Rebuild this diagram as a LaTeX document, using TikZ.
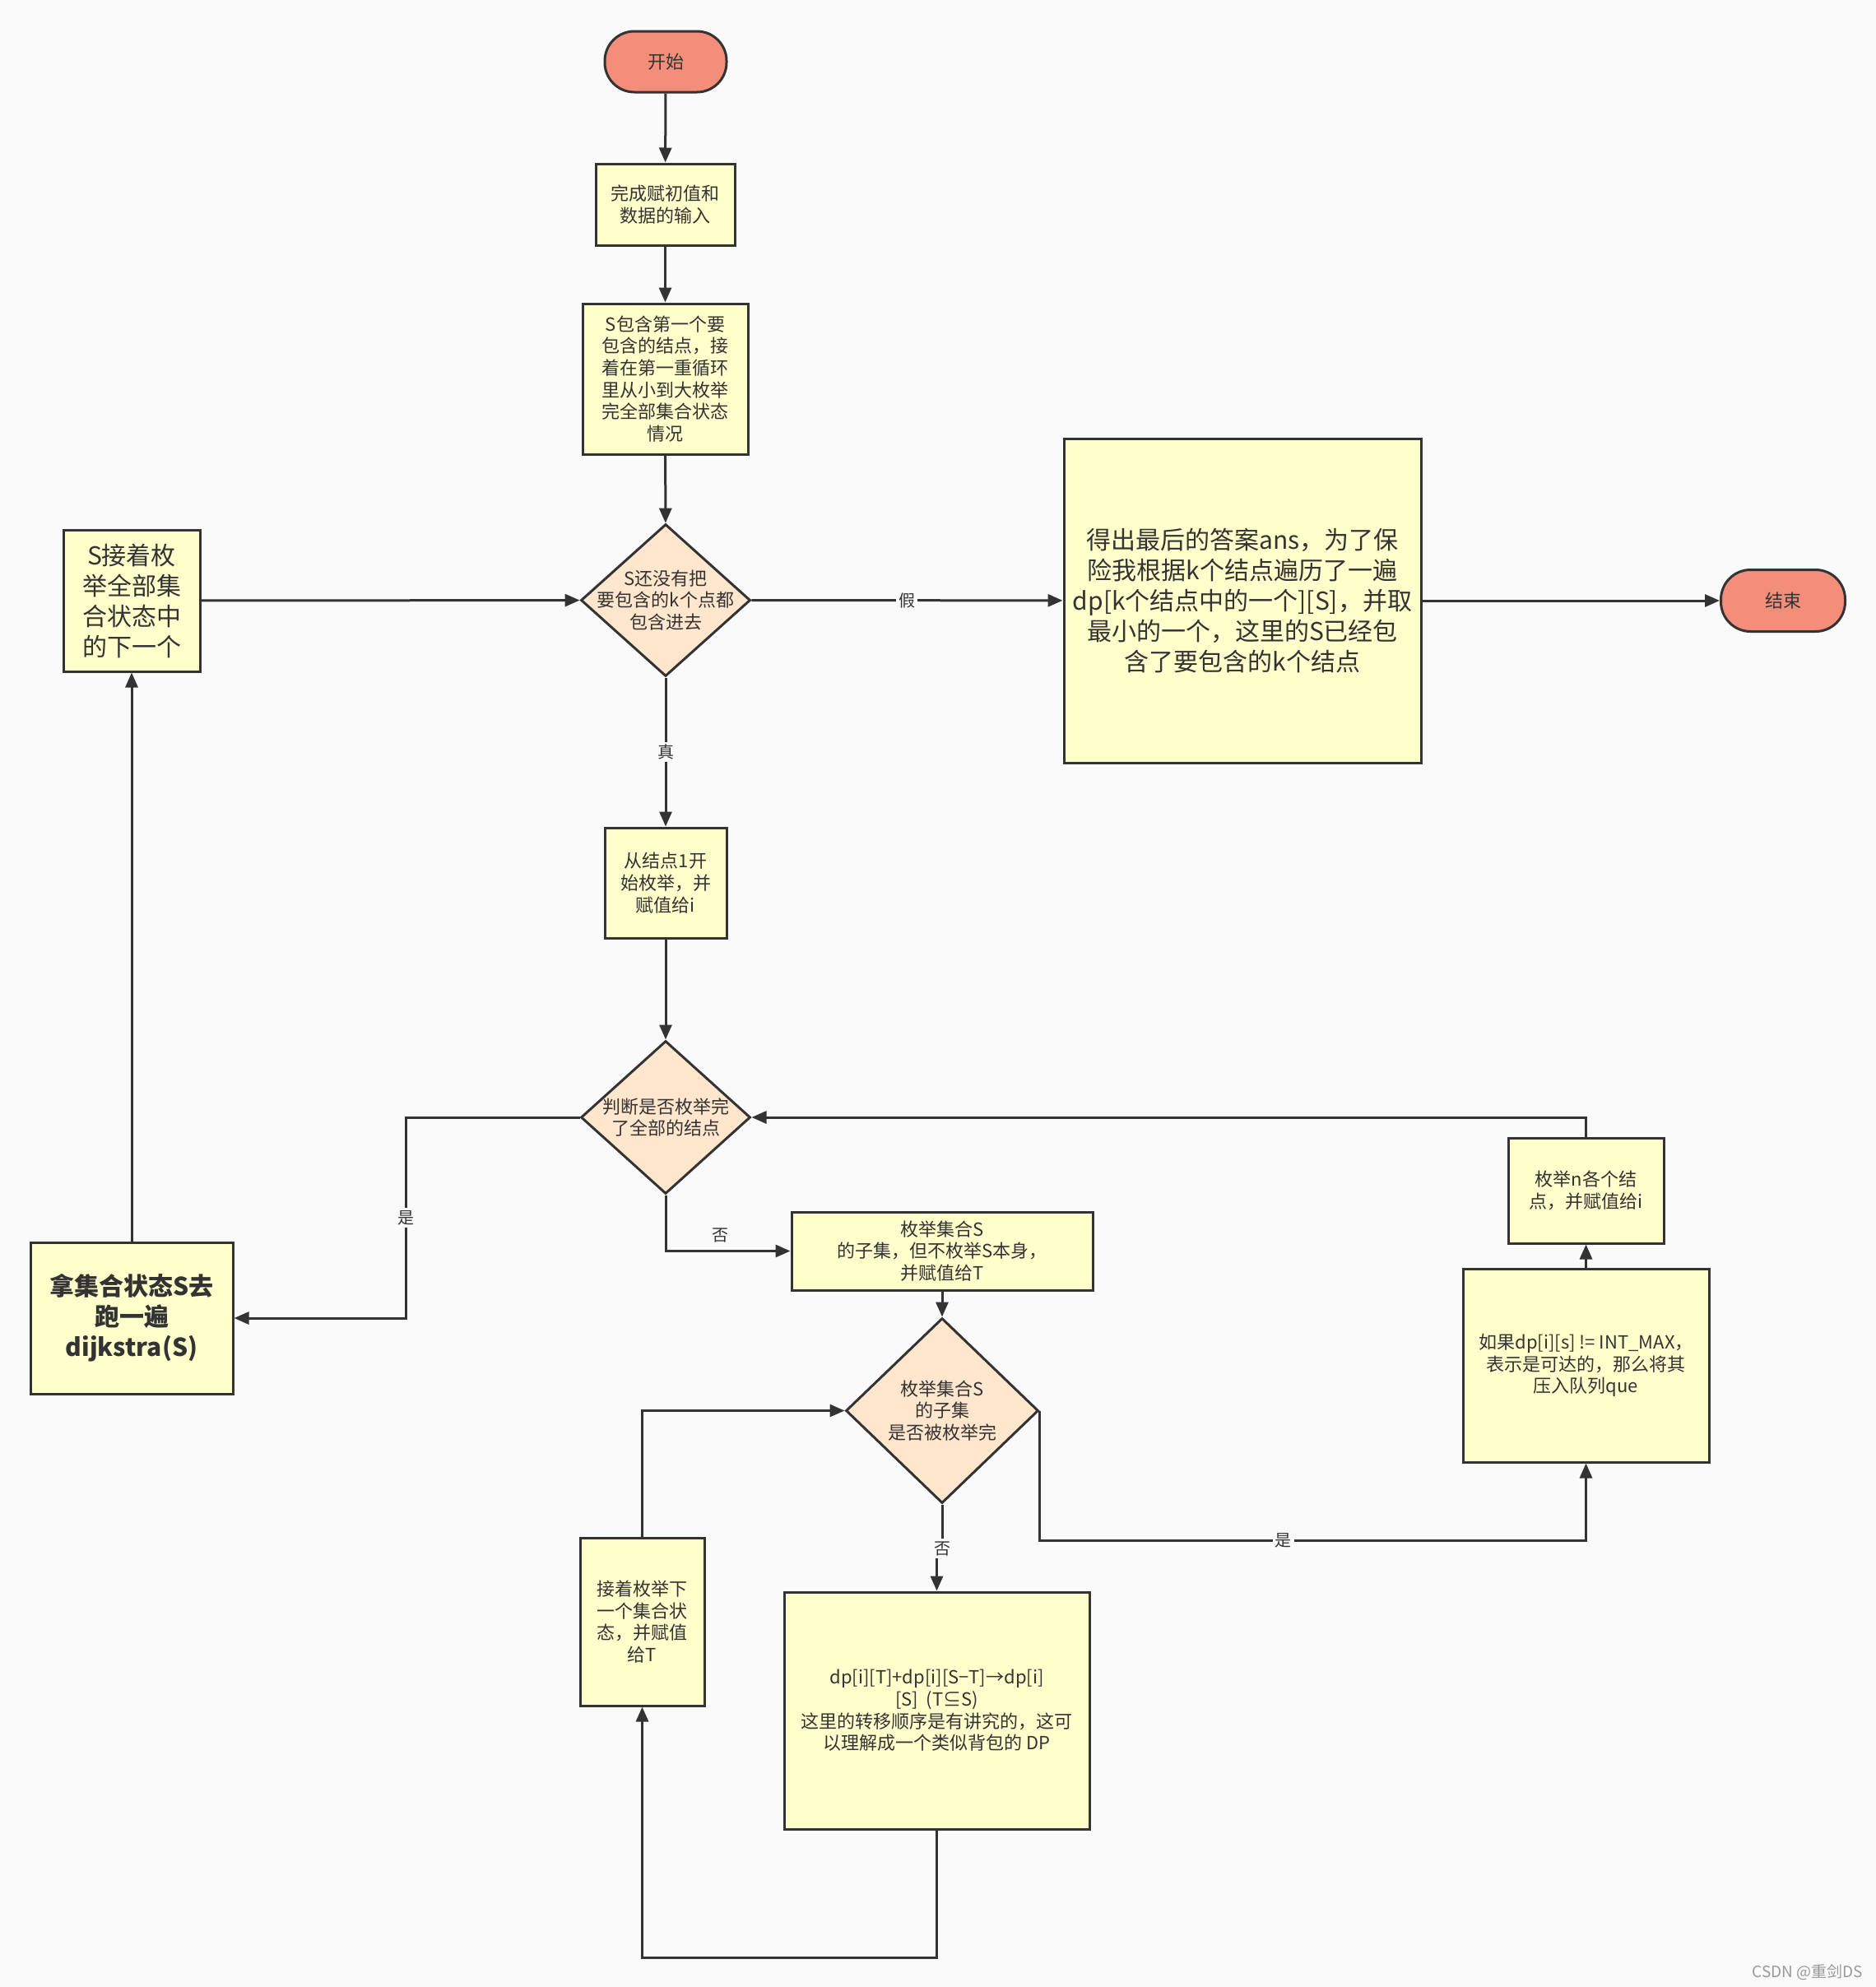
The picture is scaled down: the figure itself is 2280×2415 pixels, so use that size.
\documentclass[tikz,border=0pt]{standalone}
\usepackage{fontspec}
\setmainfont{Noto Sans CJK SC}
\usetikzlibrary{arrows.meta,shapes.geometric,calc}
\definecolor{bg}{HTML}{FAFAFA}
\definecolor{boxfill}{HTML}{FFFFCC}
\definecolor{decfill}{HTML}{FFE6CC}
\definecolor{termfill}{HTML}{F38E7A}
\definecolor{ink}{HTML}{333333}
\definecolor{wmgray}{HTML}{999999}
\begin{document}
\begin{tikzpicture}[x=1pt,y=-1pt,
  base/.style={draw=ink, line width=3pt, text=ink, inner sep=0pt, align=center,
    font=\fontsize{22}{26.7}\selectfont},
  box/.style={base, rectangle, fill=boxfill},
  bigtext/.style={font=\fontsize{30}{37}\selectfont},
  dec/.style={base, diamond, fill=decfill},
  dectext/.style={text=ink, align=center, inner sep=0pt, font=\fontsize{22}{26.7}\selectfont},
  term/.style={base, rectangle, rounded corners=36pt, fill=termfill},
  arr/.style={draw=ink, line width=3pt, -{Triangle[length=18pt,width=15pt]}},
  lbl/.style={fill=bg, text=ink, inner sep=3pt, font=\fontsize{20}{24}\selectfont},
  lblnf/.style={text=ink, inner sep=3pt, font=\fontsize{20}{24}\selectfont}
]
\fill[bg] (0,0) rectangle (2280,2415);
\useasboundingbox (0,0) rectangle (2280,2415);

% nodes
\node[term, minimum width=148, minimum height=74] (start) at (809,75) {开始};
\node[box, minimum width=169, minimum height=99] (init) at (808.5,248.5) {完成赋初值和\\数据的输入};
\node[box, minimum width=201, minimum height=183] (loop) at (808.5,460.5)
  {S包含第一个要\\包含的结点，接\\着在第一重循环\\里从小到大枚举\\完全部集合状态\\情况};
\node[dec, minimum width=206, minimum height=185,
  label={[dectext]center:{S还没有把\\要包含的k个点都\\包含进去}}] (d1) at (809,729.5) {};
\node[box, bigtext, minimum width=434, minimum height=394] (ans) at (1510,730)
  {得出最后的答案ans，为了保\\险我根据k个结点遍历了一遍\\dp[k个结点中的一个][S]，并取\\最小的一个，这里的S已经包\\含了要包含的k个结点};
\node[term, minimum width=151, minimum height=75] (end) at (2167,730) {结束};
\node[box, bigtext, minimum width=166, minimum height=172] (nxt) at (160,730)
  {S接着枚\\举全部集\\合状态中\\的下一个};
\node[box, minimum width=148, minimum height=134] (seti) at (809,1073)
  {从结点1开\\始枚举，并\\赋值给i};
\node[dec, minimum width=206, minimum height=186,
  label={[dectext]center:{判断是否枚举完\\了全部的结点}}] (d2) at (809,1358) {};
\node[box, bigtext, minimum width=246, minimum height=184, font=\fontsize{30}{37}\selectfont\bfseries] (dij) at (160,1602)
  {拿集合状态S去\\跑一遍\\dijkstra(S)};
\node[box, minimum width=366, minimum height=95] (sub) at (1145,1520.5)
  {枚举集合S\\的子集，但不枚举S本身，\\并赋值给T};
\node[dec, minimum width=234, minimum height=225,
  label={[dectext]center:{枚举集合S\\的子集\\是否被枚举完}}] (d3) at (1145,1714.5) {};
\node[box, minimum width=151, minimum height=204] (nt) at (780.5,1971)
  {接着枚举下\\一个集合状\\态，并赋值\\给T};
\node[box, minimum width=371, minimum height=288] (dp) at (1138.5,2079)
  {dp[i][T]+dp[i][S−T]→dp[i]\\{}[S]\ \ (T⊆S)\\这里的转移顺序是有讲究的，这可\\以理解成一个类似背包的 DP};
\node[box, minimum width=299, minimum height=235] (ifb) at (1927.5,1659.5)
  {如果dp[i][s] != INT\_MAX，\\表示是可达的，那么将其\\压入队列que};
\node[box, minimum width=189, minimum height=128] (nb) at (1927.5,1447)
  {枚举n各个结\\点，并赋值给i};
\node[text=wmgray, inner sep=0pt, anchor=east, font=\fontsize{19}{22}\selectfont] (wm) at (2264,2397) {CSDN @重剑DS};

% helper coordinates
\coordinate (c1) at (493,1602);
\coordinate (c2) at (1145,1882);
\coordinate (c3) at (1927.5,1872);
\coordinate (c4) at (780.5,2379);

% connectors
\draw[arr] (start) -- (init);
\draw[arr] (init) -- (loop);
\draw[arr] (loop) -- (d1);
\draw[arr] (d1) -- node[lbl]{假} (ans);
\draw[arr] (ans) -- (end);
\draw[arr] (d1) -- node[lbl]{真} (seti);
\draw[arr] (nxt) -- (d1);
\draw[arr] (seti) -- (d2);
\draw[arr] (d2.west) -| node[lbl,pos=0.75]{是} (c1) -- (dij.east);
\draw[arr] (dij) -- (nxt);
\draw[arr] (d2.south) |- node[lblnf,pos=0.72,above=6pt]{否} (sub.west);
\draw[arr] (sub) -- (d3);
\draw[arr] (d3.south) -- (c2) -| (dp.north);
\node[lbl] (nolbl) at (c2) {否};
\draw[arr] (d3.east) |- node[lbl,pos=0.723]{是} (c3) -- (ifb.south);
\draw[arr] (ifb) -- (nb);
\draw[arr] (nb.north) |- (d2.east);
\draw[arr] (dp.south) |- (c4) -- (nt.south);
\draw[arr] (nt.north) |- (d3.west);
\end{tikzpicture}
\end{document}
